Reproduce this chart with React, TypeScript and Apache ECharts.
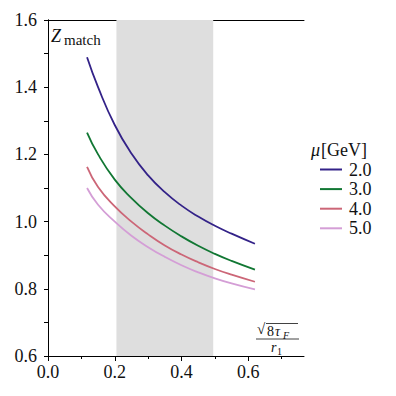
import React, { useEffect, useRef } from "react";
import * as echarts from "echarts";

const xValues = [0.117, 0.15, 0.2, 0.25, 0.3, 0.35, 0.4, 0.45, 0.5, 0.55, 0.62];
const mu2 = [1.489, 1.4, 1.2875, 1.2025, 1.1375, 1.0875, 1.0475, 1.015, 0.9875, 0.964, 0.934];
const mu3 = [1.265, 1.2, 1.125, 1.07, 1.025, 0.988, 0.956, 0.928, 0.904, 0.883, 0.857];
const mu4 = [1.163, 1.103, 1.045, 1.0, 0.962, 0.929, 0.902, 0.879, 0.859, 0.842, 0.821];
const mu5 = [1.1, 1.05, 1.0, 0.958, 0.924, 0.895, 0.87, 0.849, 0.831, 0.816, 0.798];
const seriesNames = ["2.0", "3.0", "4.0", "5.0"];
const seriesColors = ["#332288", "#117733", "#CC6677", "#D49ED6"];
const bandRange = [0.205, 0.495];
const xMajorTicks = [0, 0.2, 0.4, 0.6];
const xMinorTicks = [0.1, 0.3, 0.5, 0.7];
const xMin = 0;
const xMax = 0.767;
const yMin = 0.6;
const yMax = 1.6;

const FONT = "'Liberation Serif', 'DejaVu Serif', serif";
const INK = "#111";

export default function App() {
  const ref = useRef<HTMLDivElement>(null);
  useEffect(() => {
    if (!ref.current) return;
    const chart = echarts.init(ref.current, null, { renderer: "svg" });
    const allSeries = [mu2, mu3, mu4, mu5];
    const gridRect = { left: 48, top: 20, right: 92, bottom: 40 };
    const option: any = {
      animation: false,
      backgroundColor: "#fff",
      textStyle: { fontFamily: FONT },
      grid: [
        { ...gridRect, containLabel: false },
        { ...gridRect, containLabel: false },
      ],
      xAxis: [
        {
          type: "value",
          gridIndex: 0,
          position: "bottom",
          min: xMin,
          max: xMax,
          axisLine: { show: true, lineStyle: { color: "#000", width: 1 } },
          axisTick: { show: true, customValues: xMajorTicks, length: 5, inside: false, lineStyle: { color: "#000" } },
          axisLabel: {
            show: true,
            customValues: xMajorTicks,
            formatter: (v: number) => v.toFixed(1),
            margin: 7,
            fontFamily: FONT,
            fontSize: 18,
            color: INK,
          },
          splitLine: { show: false },
        },
        {
          type: "value",
          gridIndex: 0,
          position: "top",
          min: xMin,
          max: xMax,
          axisLine: { show: true, lineStyle: { color: "#000", width: 1 } },
          axisTick: { show: false },
          axisLabel: { show: false },
          splitLine: { show: false },
        },
        {
          type: "value",
          gridIndex: 1,
          position: "bottom",
          min: xMin,
          max: xMax,
          axisLine: { show: false },
          axisTick: { show: true, customValues: xMinorTicks, length: 3, inside: false, lineStyle: { color: "#000" } },
          axisLabel: { show: false },
          splitLine: { show: false },
        },
      ],
      yAxis: [
        {
          type: "value",
          gridIndex: 0,
          position: "left",
          min: yMin,
          max: yMax,
          interval: 0.2,
          axisLine: { show: true, lineStyle: { color: "#000", width: 1 } },
          axisTick: { show: true, length: 4, inside: false, lineStyle: { color: "#000" } },
          minorTick: { show: true, splitNumber: 2, length: 3, lineStyle: { color: "#000" } },
          axisLabel: {
            formatter: (v: number) => v.toFixed(1),
            margin: 11,
            fontFamily: FONT,
            fontSize: 18,
            color: INK,
          },
          splitLine: { show: false },
          minorSplitLine: { show: false },
        },
        {
          type: "value",
          gridIndex: 0,
          position: "right",
          min: yMin,
          max: yMax,
          interval: 0.1,
          axisLine: { show: true, lineStyle: { color: "#000", width: 1 } },
          axisTick: { show: true, length: 4, inside: true, lineStyle: { color: "#000" } },
          axisLabel: { show: false },
          splitLine: { show: false },
        },
        {
          type: "value",
          gridIndex: 1,
          show: false,
          min: yMin,
          max: yMax,
          splitLine: { show: false },
        },
      ],
      legend: {
        data: seriesNames,
        orient: "vertical",
        left: 320,
        top: 160,
        icon: "rect",
        itemWidth: 22,
        itemHeight: 2,
        itemGap: 0.6,
        padding: 0,
        textStyle: { fontFamily: FONT, fontSize: 18, color: INK, lineHeight: 19, padding: [0, 0, 0, 2] },
      },
      series: [
        {
          name: "band",
          type: "line",
          xAxisIndex: 0,
          yAxisIndex: 0,
          data: [[0.3, 1.0]],
          symbol: "none",
          lineStyle: { opacity: 0 },
          silent: true,
          z: 1,
          markArea: {
            silent: true,
            itemStyle: { color: "#dedede" },
            data: [[{ xAxis: bandRange[0] }, { xAxis: bandRange[1] }]],
          },
        },
        ...allSeries.map((vals, i) => ({
          name: seriesNames[i],
          type: "line",
          xAxisIndex: 0,
          yAxisIndex: 0,
          data: xValues.map((x, j) => [x, vals[j]]),
          symbol: "none",
          smooth: 0.5,
          z: 3,
          color: seriesColors[i],
          lineStyle: { color: seriesColors[i], width: 1.8 },
        })),
      ],
      graphic: [
        { type: "text", left: 51, top: 27, style: { text: "Z", font: `italic 18px ${FONT}`, fill: INK } },
        { type: "text", left: 64, top: 32, style: { text: "match", font: `15px ${FONT}`, fill: INK } },
        { type: "text", left: 311, top: 141, style: { text: "μ", font: `italic 18px ${FONT}`, fill: INK } },
        { type: "text", left: 321, top: 141, style: { text: "[GeV]", font: `18px ${FONT}`, fill: INK } },
        { type: "text", left: 257, top: 321, style: { text: "√", font: `15px ${FONT}`, fill: INK } },
        { type: "line", shape: { x1: 266, y1: 323.5, x2: 298, y2: 323.5 }, style: { stroke: INK, lineWidth: 0.8 } },
        { type: "text", left: 267, top: 324, style: { text: "8", font: `14px ${FONT}`, fill: INK } },
        { type: "text", left: 275, top: 324, style: { text: "τ", font: `italic 14px ${FONT}`, fill: INK } },
        { type: "text", left: 283, top: 330, style: { text: "F", font: `italic 10px ${FONT}`, fill: INK } },
        { type: "line", shape: { x1: 256, y1: 339, x2: 299, y2: 339 }, style: { stroke: INK, lineWidth: 0.8 } },
        { type: "text", left: 271, top: 340, style: { text: "r", font: `italic 14px ${FONT}`, fill: INK } },
        { type: "text", left: 277, top: 346, style: { text: "1", font: `10px ${FONT}`, fill: INK } },
      ],
    };
    chart.setOption(option);
    return () => chart.dispose();
  }, []);
  return (
    <div
      ref={ref}
      style={{ position: "fixed", left: 0, top: 0, width: 396, height: 396, background: "#fff" }}
    />
  );
}
